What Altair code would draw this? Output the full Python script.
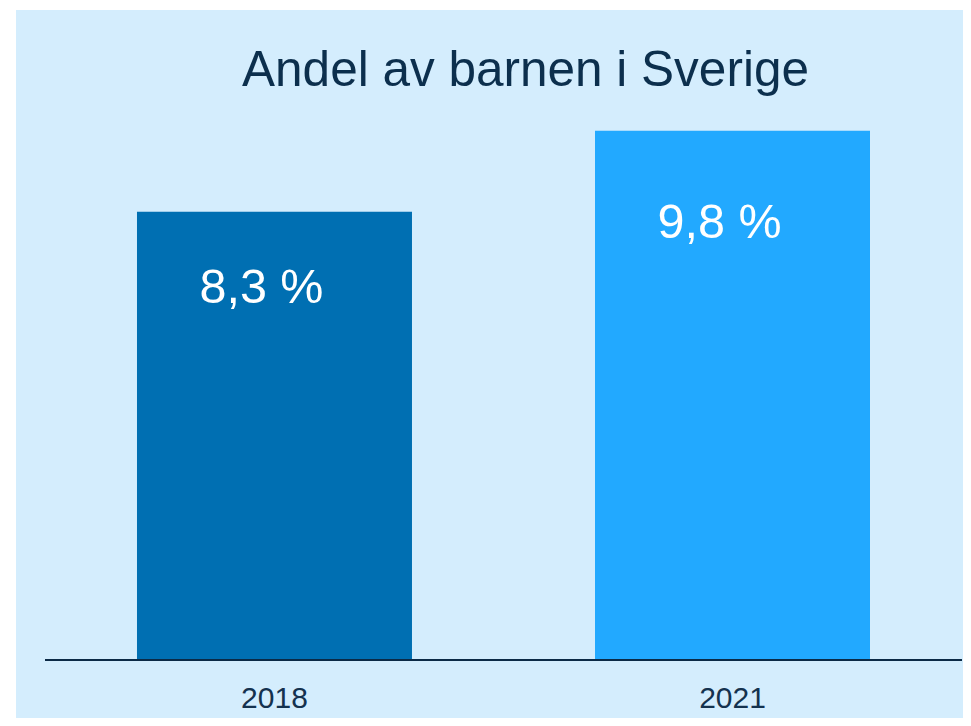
import altair as alt
import pandas as pd

# Data
years = ["2018", "2021"]
values = [8.3, 9.8]
bar_colors = ["#006fb2", "#22a9ff"]
title_text = "Andel av barnen i Sverige"

df = pd.DataFrame({"year": years, "value": values})
title_df = pd.DataFrame({"t": [title_text]})

FONT = "Liberation Sans"
BG = "#d4edfd"
NAVY = "#0c2f4d"

x_enc = alt.X(
    "year:N",
    sort=years,
    scale=alt.Scale(paddingInner=0.3996, paddingOuter=0.2336, align=0.5654),
    axis=alt.Axis(
        title=None, domain=False, ticks=False, grid=False,
        offset=-58, labelPadding=47, labelBaseline="alphabetic",
        labelFont=FONT, labelFontSize=30, labelColor="#14324f", labelAngle=0,
    ),
)
y_scale = alt.Scale(domain=[-1.0741, 12.037], nice=False, zero=False)

base = alt.Chart(df)

bars = base.mark_bar().encode(
    x=x_enc,
    y=alt.Y("value:Q", scale=y_scale, axis=None),
    y2=alt.datum(0),
    color=alt.Color("year:N", scale=alt.Scale(domain=years, range=bar_colors), legend=None),
)

labels = base.transform_calculate(
    pos="datum.value * 0.797",
    lbl="replace(format(datum.value, '.1f'), '.', ',') + ' %'",
).mark_text(
    color="white", font=FONT, fontSize=48.5, baseline="alphabetic", align="center", dx=-13
).encode(
    x=alt.X("year:N", sort=years),
    y=alt.Y("pos:Q", scale=y_scale),
    text="lbl:N",
)

axis_line = alt.Chart(pd.DataFrame({"z": [0]})).mark_rule(
    color="#0b2a46", strokeWidth=2
).encode(
    x=alt.value(29), x2=alt.value(946), y=alt.Y("z:Q", scale=y_scale)
)

title = alt.Chart(title_df).mark_text(
    font=FONT, fontSize=49.5, color=NAVY, baseline="alphabetic", align="center"
).encode(
    x=alt.value(509.5), y=alt.value(76), text="t:N"
)

chart = alt.layer(bars, labels, axis_line, title).properties(
    width=947,
    height=708,
    autosize=alt.AutoSizeParams(type="none"),
    padding={"left": 8, "top": 2, "right": 0, "bottom": 0},
    background="white",
).configure_view(
    fill=BG, stroke=None
)

chart.save("out.html", embed_options={"renderer": "svg", "actions": False})
